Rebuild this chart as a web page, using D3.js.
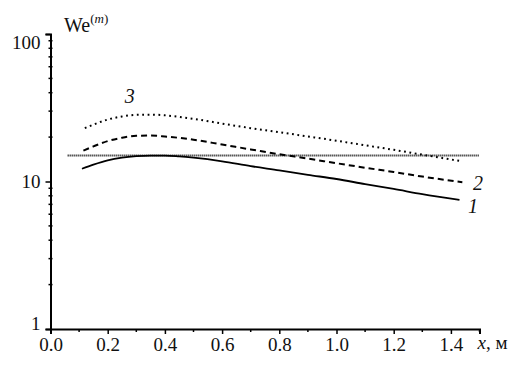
<!DOCTYPE html>
<html>
<head>
<meta charset="utf-8">
<script src="https://cdn.jsdelivr.net/npm/d3@7"></script>
<style>
  body { margin: 0; background: #fff; }
</style>
</head>
<body>
<div class="canvas"></div>
<script>
// curve 1 (solid)
const x1 = [0.11, 0.15, 0.2, 0.25, 0.3, 0.35, 0.4, 0.45, 0.5, 0.6, 0.7, 0.8, 0.9, 1.0, 1.1, 1.2, 1.3, 1.43];
const we1 = [12.2, 13.0, 13.9, 14.5, 14.85, 15.0, 15.0, 14.8, 14.5, 13.7, 12.7, 11.9, 11.1, 10.4, 9.6, 8.9, 8.2, 7.5];
// curve 2 (dashed)
const x2 = [0.115, 0.15, 0.2, 0.25, 0.3, 0.35, 0.4, 0.5, 0.6, 0.7, 0.8, 0.9, 1.0, 1.1, 1.2, 1.3, 1.44];
const we2 = [16.2, 17.3, 18.8, 19.8, 20.4, 20.5, 20.2, 19.2, 17.8, 16.5, 15.3, 14.3, 13.3, 12.4, 11.6, 10.8, 9.9];
// curve 3 (dotted)
const x3 = [0.12, 0.15, 0.2, 0.25, 0.3, 0.35, 0.4, 0.45, 0.5, 0.6, 0.7, 0.8, 0.9, 1.0, 1.1, 1.2, 1.3, 1.44];
const we3 = [23.0, 24.3, 26.3, 27.6, 28.3, 28.4, 28.1, 27.4, 26.6, 24.7, 23.0, 21.6, 20.2, 18.9, 17.6, 16.4, 15.2, 13.7];
// horizontal reference level
const refLevel = 15;
const refRange = [0.06, 1.5];

const xTicks = [0.0, 0.2, 0.4, 0.6, 0.8, 1.0, 1.2, 1.4];
const xMinor = [0.1, 0.3, 0.5, 0.7, 0.9, 1.1, 1.3, 1.5];
const yTicks = [1, 10, 100];
const yMinor = [2, 3, 4, 5, 6, 7, 8, 9, 20, 30, 40, 50, 60, 70, 80, 90];

// curve numbers: [label, x, We]
const curveLabels = [["3", 0.26, 34.3], ["2", 1.477, 8.8], ["1", 1.46, 6.15]];

const svgWidth = 528;
const svgHeight = 367;
const serif = 'Liberation Serif';

const x = d3.scaleLinear().domain([0, 1.5]).range([50.5, 479.5]);
const y = d3.scaleLog().domain([1, 100]).range([329, 34]);

const svg = d3.select('.canvas').append('svg')
  .attr('width', svgWidth)
  .attr('height', svgHeight)
  .style('font-family', serif);

// x axis
const xAxis = svg.append('g').attr('transform', `translate(0, ${y(1)})`)
  .call(d3.axisBottom(x).tickValues(xTicks).tickSize(5).tickPadding(4).tickFormat(d3.format('.1f')));
xAxis.attr('font-family', null);
xAxis.select('.domain').attr('stroke-width', 2);
xAxis.selectAll('.tick line').attr('stroke-width', 1.5);
xAxis.selectAll('text').attr('font-size', 19).style('font-family', serif).attr('fill', '#111');
svg.append('g').attr('transform', `translate(0, ${y(1)})`)
  .selectAll('line').data(xMinor).enter().append('line')
  .attr('x1', d => x(d)).attr('x2', d => x(d))
  .attr('y1', 0).attr('y2', 3)
  .attr('stroke', '#000').attr('stroke-width', 1.5);

svg.append('text')
  .attr('x', x(1.5) - 2).attr('y', 349)
  .attr('font-size', 19).attr('fill', '#111').style('font-family', serif)
  .html('<tspan font-style="italic">x</tspan>, м');

// y axis
const yAxis = svg.append('g').attr('transform', `translate(${x(0)}, 0)`)
  .call(d3.axisLeft(y).tickValues(yTicks).tickSize(5).tickPadding(5).tickFormat(d3.format('d')));
yAxis.attr('font-family', null);
yAxis.select('.domain').attr('stroke-width', 2);
yAxis.selectAll('.tick line').attr('stroke-width', 1.5);
yAxis.selectAll('text').attr('font-size', 19).style('font-family', serif).attr('fill', '#111')
  .attr('dy', d => d === 100 ? '0.75em' : d === 1 ? '0.05em' : '0.32em');
svg.append('g').attr('transform', `translate(${x(0)}, 0)`)
  .selectAll('line').data(yMinor).enter().append('line')
  .attr('x1', -2).attr('x2', 2)
  .attr('y1', d => y(d)).attr('y2', d => y(d))
  .attr('stroke', '#000').attr('stroke-width', 1.5);

const yTitle = svg.append('text').attr('x', 64).attr('y', 32).attr('fill', '#111').style('font-family', serif);
yTitle.append('tspan').attr('font-size', 20).text('We');
yTitle.append('tspan').attr('font-size', 13).attr('dy', -9).text('(');
yTitle.append('tspan').attr('font-size', 13).attr('font-style', 'italic').text('m');
yTitle.append('tspan').attr('font-size', 13).text(')');

// reference line
svg.append('line')
  .attr('x1', x(refRange[0])).attr('x2', x(refRange[1]))
  .attr('y1', y(refLevel)).attr('y2', y(refLevel))
  .attr('stroke', '#000').attr('stroke-width', 2).attr('stroke-dasharray', '1,1');

const line = d3.line().x(d => x(d[0])).y(d => y(d[1])).curve(d3.curveMonotoneX);

const series = [
  { xs: x1, ys: we1, dash: null, width: 1.8 },
  { xs: x2, ys: we2, dash: '6,4', width: 2 },
  { xs: x3, ys: we3, dash: '1.8,3.6', width: 2 }
];

series.forEach(s => {
  svg.append('path')
    .datum(s.xs.map((v, i) => [v, s.ys[i]]))
    .attr('d', line)
    .attr('fill', 'none')
    .attr('stroke', '#000')
    .attr('stroke-width', s.width)
    .attr('stroke-dasharray', s.dash);
});

svg.selectAll('.clabel').data(curveLabels).enter().append('text')
  .attr('class', 'clabel')
  .attr('x', d => x(d[1])).attr('y', d => y(d[2]))
  .attr('font-size', 20).attr('font-style', 'italic').attr('fill', '#111')
  .style('font-family', serif)
  .text(d => d[0]);
</script>
</body>
</html>
